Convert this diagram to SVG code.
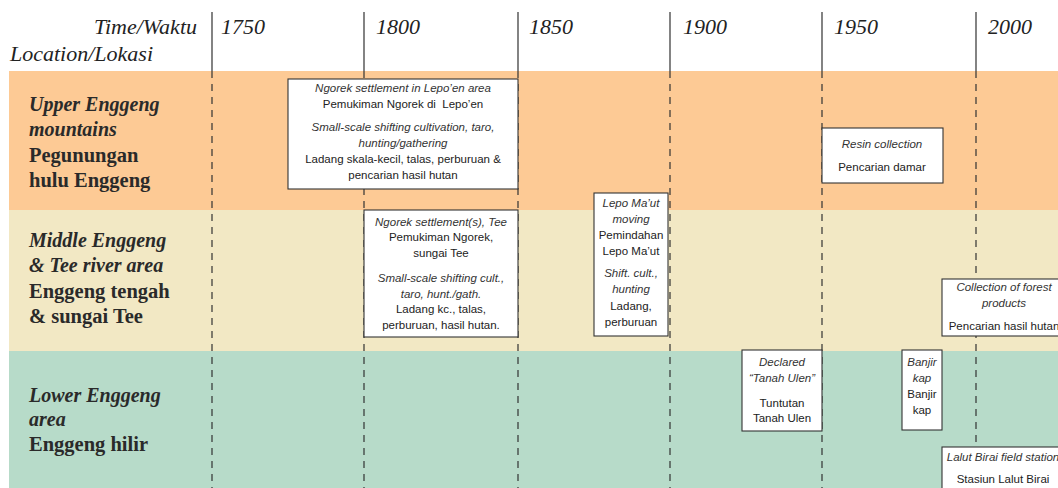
<svg xmlns="http://www.w3.org/2000/svg" width="1058" height="488" viewBox="0 0 1058 488">
<style>
.hdr{font-family:"Liberation Serif",serif;font-style:italic;font-size:22px;fill:#222}
.li{font-family:"Liberation Serif",serif;font-style:italic;font-weight:bold;font-size:20px;fill:#2a2a2a}
.lb{font-family:"Liberation Serif",serif;font-weight:bold;font-size:20.5px;fill:#2a2a2a}
.bx{font-family:"Liberation Sans",Arial,sans-serif;font-size:11.5px;text-anchor:middle;fill:#222}
.it{font-style:italic;fill:#333}
.box{fill:#fff;stroke:#333;stroke-width:1.1}
.solid{stroke:#333;stroke-width:1.2;fill:none}
.dash{stroke:#333;stroke-width:1.2;fill:none;stroke-dasharray:7 6}
</style>
<rect width="1058" height="488" fill="#fff"/>
<g id="bands">
<rect x="9" y="71" width="1049" height="139" fill="#FDCA95"/>
<rect x="9" y="210" width="1049" height="141" fill="#F2E8C4"/>
<rect x="9" y="351" width="1049" height="137" fill="#B7DBC9"/>
</g>
<g id="header">
<text class="hdr" x="197" y="34" text-anchor="end">Time/Waktu</text>
<text class="hdr" x="10" y="61">Location/Lokasi</text>
<text class="hdr" x="221" y="34">1750</text>
<text class="hdr" x="376" y="34">1800</text>
<text class="hdr" x="529" y="34">1850</text>
<text class="hdr" x="683" y="34">1900</text>
<text class="hdr" x="834" y="34">1950</text>
<text class="hdr" x="988" y="34">2000</text>
</g>
<g id="row-labels">
<text class="li" x="29" y="111">Upper Enggeng</text>
<text class="li" x="29" y="136">mountains</text>
<text class="lb" x="29" y="162">Pegunungan</text>
<text class="lb" x="29" y="187">hulu Enggeng</text>
<text class="li" x="29" y="247">Middle Enggeng</text>
<text class="li" x="29" y="272">&amp; Tee river area</text>
<text class="lb" x="29" y="298">Enggeng tengah</text>
<text class="lb" x="29" y="323">&amp; sungai Tee</text>
<text class="li" x="29" y="402">Lower Enggeng</text>
<text class="li" x="29" y="426">area</text>
<text class="lb" x="29" y="451">Enggeng hilir</text>
</g>
<g id="connectors">
<path class="solid" d="M212 12V71M364 12V71M518 12V71M670 12V71M822 12V71M976 12V71"/>
<path class="dash" d="M212 71V488M364 71V488M518 71V488M670 71V488M822 71V488M976 71V488"/>
</g>
<g id="box-ngorek-lepoen">
<rect class="box" x="288" y="79" width="230" height="110"/>
<text class="bx it" x="403" y="92">Ngorek settlement in Lepo’en area</text>
<text class="bx" x="403" y="108">Pemukiman Ngorek di&#160; Lepo’en</text>
<text class="bx it" x="403" y="131">Small-scale shifting cultivation, taro,</text>
<text class="bx it" x="403" y="147">hunting/gathering</text>
<text class="bx" x="403" y="163">Ladang skala-kecil, talas, perburuan &amp;</text>
<text class="bx" x="403" y="179">pencarian hasil hutan</text>
</g>
<g id="box-ngorek-tee">
<rect class="box" x="364" y="210" width="154" height="127"/>
<text class="bx it" x="441" y="226">Ngorek settlement(s), Tee</text>
<text class="bx" x="441" y="241">Pemukiman Ngorek,</text>
<text class="bx" x="441" y="257">sungai Tee</text>
<text class="bx it" x="441" y="282">Small-scale shifting cult.,</text>
<text class="bx it" x="441" y="298">taro, hunt./gath.</text>
<text class="bx" x="441" y="313">Ladang kc., talas,</text>
<text class="bx" x="441" y="329">perburuan, hasil hutan.</text>
</g>
<g id="box-lepo-maut">
<rect class="box" x="594" y="193" width="74" height="143"/>
<text class="bx it" x="631" y="207">Lepo Ma’ut</text>
<text class="bx it" x="631" y="223">moving</text>
<text class="bx" x="631" y="239">Pemindahan</text>
<text class="bx" x="631" y="255">Lepo Ma’ut</text>
<text class="bx it" x="631" y="277">Shift. cult.,</text>
<text class="bx it" x="631" y="293">hunting</text>
<text class="bx" x="631" y="310">Ladang,</text>
<text class="bx" x="631" y="326">perburuan</text>
</g>
<g id="box-resin">
<rect class="box" x="822" y="128" width="121" height="55"/>
<text class="bx it" x="882" y="148">Resin collection</text>
<text class="bx" x="882" y="171">Pencarian damar</text>
</g>
<g id="box-forest-products">
<rect class="box" x="942" y="279" width="130" height="57"/>
<text class="bx it" x="1004" y="291">Collection of forest</text>
<text class="bx it" x="1004" y="307">products</text>
<text class="bx" x="1004" y="330">Pencarian hasil hutan</text>
</g>
<g id="box-tanah-ulen">
<rect class="box" x="742" y="350" width="80" height="81"/>
<text class="bx it" x="782" y="366">Declared</text>
<text class="bx it" x="782" y="382">“Tanah Ulen”</text>
<text class="bx" x="782" y="407">Tuntutan</text>
<text class="bx" x="782" y="422">Tanah Ulen</text>
</g>
<g id="box-banjir-kap">
<rect class="box" x="902" y="350" width="40" height="80"/>
<text class="bx it" x="922" y="366">Banjir</text>
<text class="bx it" x="922" y="382">kap</text>
<text class="bx" x="922" y="398">Banjir</text>
<text class="bx" x="922" y="414">kap</text>
</g>
<g id="box-lalut-birai">
<rect class="box" x="942" y="447" width="130" height="60"/>
<text class="bx it" x="1003" y="461">Lalut Birai field station</text>
<text class="bx" x="1003" y="483">Stasiun Lalut Birai</text>
</g>
</svg>
